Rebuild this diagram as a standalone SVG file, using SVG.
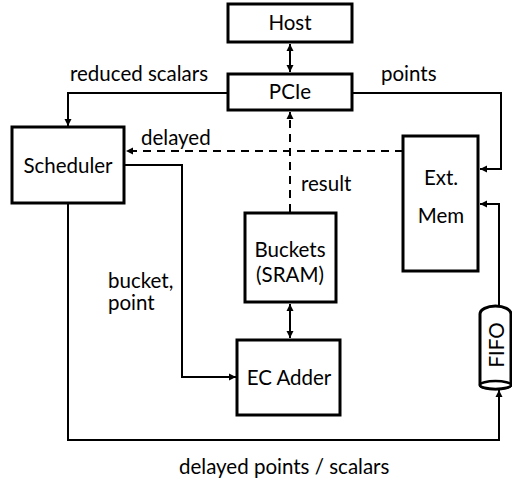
<svg xmlns="http://www.w3.org/2000/svg" width="512" height="480" viewBox="0 0 512 480">
<defs>
<marker id="ah" markerWidth="8" markerHeight="8" refX="7" refY="4" orient="auto-start-reverse" markerUnits="userSpaceOnUse">
<path d="M0,0.5 L7,4 L0,7.5 Z" fill="#000"/>
</marker>
<style>
.box{fill:#fff;stroke:#000;stroke-width:3}
.ln{fill:none;stroke:#000;stroke-width:2}
.dash{fill:none;stroke:#000;stroke-width:2;stroke-dasharray:8,6}
text{font-family:Lato,"Open Sans",sans-serif;font-size:20.5px;fill:#000}
.c{text-anchor:middle}
</style>
</defs>
<rect width="512" height="480" fill="#fff"/>
<g id="connectors">
<path class="ln" d="M290,44 L290,72" marker-start="url(#ah)" marker-end="url(#ah)"/>
<path class="ln" d="M228,93 L68,93 L68,126" marker-end="url(#ah)"/>
<path class="ln" d="M352,93 L501,93 L501,169 L480,169" marker-end="url(#ah)"/>
<path class="dash" d="M403,151 L126,151" marker-end="url(#ah)"/>
<path class="dash" d="M290,212 L290,112" marker-end="url(#ah)"/>
<path class="ln" d="M290,304 L290,338" marker-start="url(#ah)" marker-end="url(#ah)"/>
<path class="ln" d="M124,165 L182,165 L182,377 L236,377" marker-end="url(#ah)"/>
<path class="ln" d="M68,203 L68,440 L499,440 L499,390" marker-end="url(#ah)"/>
<path class="ln" d="M499,306 L499,204 L480,204" marker-end="url(#ah)"/>
</g>
<g id="host"><rect class="box" x="228" y="4" width="124" height="38"/><text class="c" x="290" y="30">Host</text></g>
<g id="pcie"><rect class="box" x="228" y="74" width="124" height="36"/><text class="c" x="290" y="99">PCIe</text></g>
<g id="scheduler"><rect class="box" x="12" y="127" width="112" height="76"/><text class="c" x="68" y="173">Scheduler</text></g>
<g id="buckets"><rect class="box" x="245" y="213" width="91" height="89"/><text class="c" x="290" y="257">Buckets</text><text class="c" x="290" y="282">(SRAM)</text></g>
<g id="ecadder"><rect class="box" x="237" y="340" width="103" height="75"/><text class="c" x="289" y="385">EC Adder</text></g>
<g id="extmem"><rect class="box" x="403" y="136" width="75" height="135"/><text class="c" x="441" y="185">Ext.</text><text class="c" x="441" y="223">Mem</text></g>
<g id="fifo">
<path class="box" d="M480,314 A15.5,8 0 0 1 511,314 L511,385 A15.5,4 0 0 1 480,385 Z" stroke-width="2.5"/>
<ellipse cx="495.5" cy="385" rx="15.5" ry="4" fill="#fff" stroke="#000" stroke-width="2.5"/>
<text class="c" transform="translate(504,345) rotate(-90)">FIFO</text>
</g>
<g id="labels">
<text x="70" y="81">reduced scalars</text>
<text x="381" y="81">points</text>
<text x="141" y="145">delayed</text>
<text x="301" y="191">result</text>
<text x="108" y="288">bucket,</text>
<text x="108" y="310">point</text>
<text x="179" y="474">delayed points / scalars</text>
</g>
</svg>
